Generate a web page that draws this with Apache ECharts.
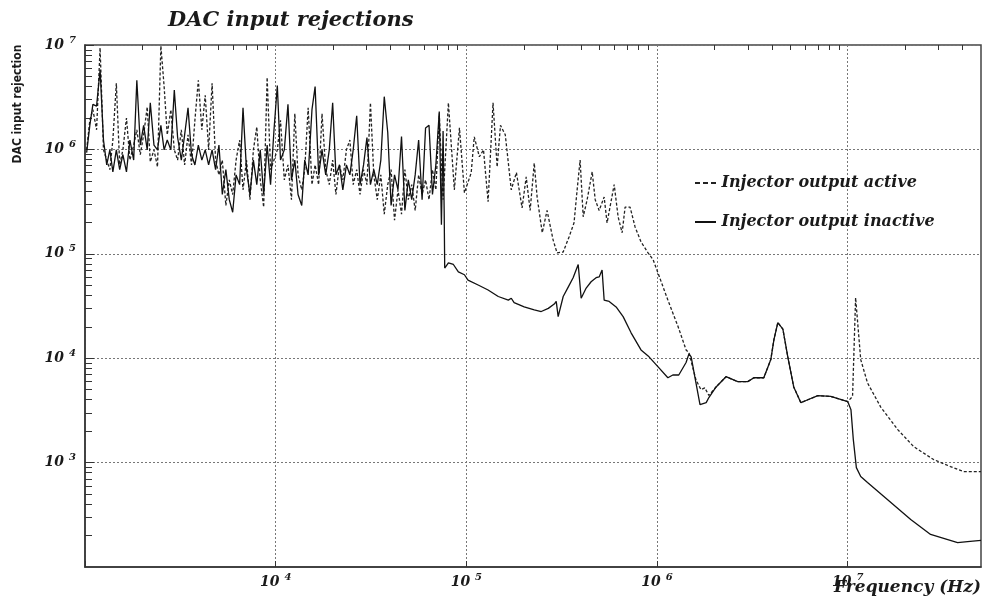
<!DOCTYPE html>
<html>
<head>
<meta charset="utf-8">
<title>DAC input rejections</title>
<script src="https://cdn.jsdelivr.net/npm/echarts@6/dist/echarts.min.js"></script>
<style>
  html, body { margin: 0; padding: 0; background: #fff; }
  #chart { width: 985px; height: 602px; }
</style>
</head>
<body>
<div id="chart"></div>
<script>
// frequencies (Hz) of the noisy low-frequency part, shared by both curves
const noiseFreq = [1020, 1060, 1100, 1150, 1200, 1250, 1300, 1350, 1400, 1460,
  1520, 1580, 1650, 1720, 1800, 1870, 1950, 2030, 2120, 2200,
  2300, 2400, 2500, 2600, 2700, 2820, 2940, 3060, 3200, 3330,
  3470, 3620, 3770, 3930, 4100, 4270, 4450, 4640, 4840, 5040,
  5250, 5480, 5710, 5950, 6200, 6470, 6740, 7030, 7330, 7640,
  7960, 8300, 8650, 9020, 9400, 9800, 10200, 10600, 11100, 11600,
  12100, 12600, 13100, 13700, 14200, 14800, 15500, 16100, 16800, 17500,
  18300, 19100, 19900, 20700, 21600, 22500, 23500, 24500, 25500, 26600,
  27700, 28900, 30100, 31400, 32700, 34100, 35600, 37100, 38700, 40300,
  42000, 43800, 45700, 47600, 49600, 51700, 53900, 56200, 58600, 61100,
  63700, 66400, 69200, 72100, 74000, 75500, 76500];

// injector output inactive (solid)
const solidNoise = [9.3e5, 1.7e6, 2.7e6, 2.6e6, 5.8e6, 1.23e6, 7.1e5, 9.9e5, 6.1e5, 9.9e5,
  6.4e5, 8.9e5, 6.1e5, 1.23e6, 7.9e5, 4.6e6, 1.1e6, 1.7e6, 9.9e5, 2.8e6,
  1.1e6, 9.9e5, 1.7e6, 9.9e5, 1.23e6, 9.9e5, 3.7e6, 1.3e6, 7.9e5, 1.38e6,
  2.5e6, 8.9e5, 7.1e5, 1.1e6, 7.9e5, 9.9e5, 7.1e5, 9.9e5, 6.4e5, 1.1e6,
  3.7e5, 6.4e5, 3.3e5, 2.5e5, 5.7e5, 4.6e5, 2.5e6, 6.4e5, 3.7e5, 7.9e5,
  4.6e5, 9.9e5, 3.7e5, 1.1e6, 4.6e5, 1.54e6, 4.1e6, 7.9e5, 9.9e5, 2.7e6,
  5.1e5, 7.9e5, 3.7e5, 2.9e5, 7.9e5, 5.7e5, 2.4e6, 4.0e6, 5.7e5, 9.9e5,
  5.7e5, 9.9e5, 2.8e6, 5.7e5, 7.1e5, 4.1e5, 7.1e5, 5.7e5, 9.9e5, 2.1e6,
  4.6e5, 7.1e5, 1.3e6, 4.6e5, 6.4e5, 4.6e5, 7.9e5, 3.2e6, 1.45e6, 2.9e5,
  5.7e5, 4.1e5, 1.33e6, 2.6e5, 5.1e5, 3.3e5, 5.7e5, 1.23e6, 3.3e5, 1.6e6,
  1.7e6, 3.7e5, 7.1e5, 2.3e6, 1.9e5, 1.5e6, 2.6e5];

const solidDropFreq = [77000, 80500, 85500, 90800, 97700, 102000, 116000, 130000, 147000, 166000,
  172000, 178000, 201000, 227000, 247000, 269000, 289000, 296000, 303000, 322000,
  342000, 363000, 386000, 400000, 425000, 451000, 479000, 497000, 515000, 528000,
  561000, 610000, 664000, 731000, 824000, 908000, 1010000, 1140000, 1210000, 1300000,
  1420000, 1470000, 1510000, 1600000, 1680000, 1810000, 1870000];
const solidDropVal = [73000, 82000, 79000, 67000, 63000, 56000, 50000, 45000, 39000, 36000,
  37500, 34000, 31000, 29000, 28000, 30000, 33000, 35000, 25000, 39000,
  48000, 59000, 79000, 37500, 47000, 54000, 59000, 60000, 70000, 36000,
  35000, 31000, 25000, 17500, 12000, 10300, 8300, 6500, 6900, 6900,
  9100, 11000, 10300, 5800, 3600, 3750, 4200];

// part where both curves coincide
const sharedFreq = [2040000, 2300000, 2650000, 2990000, 3220000, 3630000, 3950000, 4100000, 4300000,
  4570000, 4850000, 5210000, 5680000, 6180000, 6970000, 8150000, 10000000];
const sharedVal = [5300, 6650, 5960, 5960, 6500, 6500, 9700, 15000, 21900,
  19000, 10300, 5300, 3750, 4000, 4380, 4300, 3840];

const solidEndFreq = [10400000, 10700000, 11100000, 11700000, 12700000, 16200000, 21400000,
  27200000, 37700000, 42500000, 50000000];
const solidEndVal = [3200, 1660, 895, 735, 644, 440, 285, 205, 171, 175, 180];

// injector output active (dashed)
const dashedNoise = [9.9e5, 1.9e6, 2.4e6, 1.54e6, 9.4e6, 9.9e5, 7.9e5, 6.4e5, 1.23e6, 4.3e6,
  7.1e5, 9.9e5, 2.0e6, 7.9e5, 1.1e6, 1.54e6, 8.9e5, 1.38e6, 2.55e6, 7.6e5,
  9.9e5, 6.8e5, 9.8e6, 4.0e6, 1.38e6, 2.4e6, 9.9e5, 7.9e5, 1.54e6, 7.1e5,
  1.38e6, 7.1e5, 1.9e6, 4.6e6, 1.54e6, 3.3e6, 9.9e5, 4.3e6, 7.9e5, 5.7e5,
  7.9e5, 2.9e5, 5.1e5, 3.7e5, 7.9e5, 1.23e6, 4.1e5, 7.9e5, 3.3e5, 9.9e5,
  1.64e6, 5.1e5, 2.8e5, 4.9e6, 6.4e5, 7.9e5, 9.9e5, 1.9e6, 5.1e5, 7.1e5,
  3.3e5, 2.2e6, 5.7e5, 4.1e5, 6.4e5, 2.5e6, 4.6e5, 7.1e5, 4.6e5, 2.2e6,
  6.4e5, 4.6e5, 7.9e5, 3.7e5, 7.1e5, 5.1e5, 9.9e5, 1.23e6, 4.6e5, 6.4e5,
  3.7e5, 6.4e5, 4.6e5, 2.8e6, 5.7e5, 3.3e5, 5.7e5, 2.4e5, 4.6e5, 6.4e5,
  2.1e5, 4.1e5, 2.4e5, 6.4e5, 3.3e5, 4.6e5, 2.6e5, 5.7e5, 3.7e5, 5.1e5,
  3.3e5, 6.4e5, 4.1e5, 2.2e6, 7.1e5, 3.3e5, 5.1e5];

const dashedMidFreq = [80500, 86500, 92000, 97700, 106000, 110000, 117000, 123000, 130000, 138000,
  145000, 151000, 160000, 172000, 183000, 196000, 206000, 216000, 227000, 235000,
  250000, 265000, 285000, 299000, 322000, 346000, 367000, 381000, 395000, 410000,
  430000, 457000, 474000, 497000, 528000, 547000, 596000, 625000, 656000, 680000,
  722000, 767000, 824000, 897000, 953000, 1010000, 1140000, 1290000, 1420000, 1470000,
  1600000, 1700000, 1780000, 1870000];
const dashedMidVal = [2790000, 410000, 1610000, 384000, 596000, 1320000, 850000, 990000, 315000, 2790000,
  680000, 1700000, 1380000, 410000, 600000, 275000, 545000, 260000, 740000, 350000,
  159000, 260000, 136000, 102000, 104000, 146000, 198000, 410000, 790000, 226000,
  330000, 610000, 330000, 260000, 350000, 198000, 460000, 226000, 159000, 280000,
  280000, 181000, 130000, 102000, 88000, 66000, 36000, 20000, 12000, 11300,
  6200, 5000, 5200, 4400];

const dashedEndFreq = [10600000, 11000000, 11700000, 12700000, 14900000, 18300000, 22200000,
  28200000, 34600000, 40500000, 50000000];
const dashedEndVal = [4300, 38000, 9700, 5800, 3400, 2070, 1420, 1070, 916, 820, 820];

// tick positions
const xMajorTicks = [1e3, 1e4, 1e5, 1e6, 1e7];
const xLabelTicks = [1e4, 1e5, 1e6, 1e7];
const xMinorTicks = [2e3, 3e3, 4e3, 5e3, 6e3, 7e3, 8e3, 9e3,
  2e4, 3e4, 4e4, 5e4, 6e4, 7e4, 8e4, 9e4,
  2e5, 3e5, 4e5, 5e5, 6e5, 7e5, 8e5, 9e5,
  2e6, 3e6, 4e6, 5e6, 6e6, 7e6, 8e6, 9e6,
  2e7, 3e7, 4e7];
const yMajorTicks = [1e3, 1e4, 1e5, 1e6, 1e7];
const yMinorTicks = [200, 300, 400, 500, 600, 700, 800, 900,
  2e3, 3e3, 4e3, 5e3, 6e3, 7e3, 8e3, 9e3,
  2e4, 3e4, 4e4, 5e4, 6e4, 7e4, 8e4, 9e4,
  2e5, 3e5, 4e5, 5e5, 6e5, 7e5, 8e5, 9e5,
  2e6, 3e6, 4e6, 5e6, 6e6, 7e6, 8e6, 9e6];

const zip = (fs, vs) => fs.map((f, i) => [f, vs[i]]);

const solidData = zip(noiseFreq, solidNoise)
  .concat(zip(solidDropFreq, solidDropVal), zip(sharedFreq, sharedVal), zip(solidEndFreq, solidEndVal));
const dashedData = zip(noiseFreq, dashedNoise)
  .concat(zip(dashedMidFreq, dashedMidVal), zip(sharedFreq, sharedVal), zip(dashedEndFreq, dashedEndVal));

const serif = "'DejaVu Serif', 'Liberation Serif', serif";
const ink = '#1a1a1a';

const powerLabel = v => '{b|10}{e|' + Math.round(Math.log10(v)) + '}';
const powerRich = {
  b: { fontFamily: serif, fontStyle: 'italic', fontWeight: 'bold', fontSize: 14, color: ink },
  e: { fontFamily: serif, fontStyle: 'italic', fontWeight: 'bold', fontSize: 10, color: ink, padding: [0, 0, 10, 5] }
};

const chart = echarts.init(document.getElementById('chart'));

chart.setOption({
  backgroundColor: '#ffffff',
  animation: false,
  title: {
    text: 'DAC input rejections',
    left: 163,
    top: 5,
    textStyle: { fontFamily: serif, fontStyle: 'italic', fontWeight: 'bold', fontSize: 21, color: ink }
  },
  legend: {
    orient: 'vertical',
    left: 690,
    top: 170,
    itemGap: 23,
    itemWidth: 22,
    itemHeight: 2,
    data: [
      { name: 'Injector output active', icon: 'path://M0,0h5v2h-5z M8,0h5v2h-5z M16,0h5v2h-5z' },
      { name: 'Injector output inactive', icon: 'path://M0,0h21v2h-21z' }
    ],
    textStyle: { fontFamily: serif, fontStyle: 'italic', fontWeight: 'bold', fontSize: 16, color: ink }
  },
  grid: {
    left: 85, right: 4, top: 45, bottom: 35,
    show: true, borderColor: '#444', borderWidth: 1.5, backgroundColor: 'transparent'
  },
  xAxis: [{
    type: 'log', logBase: 10, min: 1e3, max: 5e7,
    axisLine: { lineStyle: { color: '#333', width: 1.5 } },
    axisTick: { inside: true, length: 6, customValues: xMajorTicks, lineStyle: { color: '#333' } },
    axisLabel: { customValues: xLabelTicks, formatter: powerLabel, rich: powerRich, margin: 5 },
    splitLine: { show: true, lineStyle: { color: '#777', width: 1, type: [2, 2] } }
  }, {
    type: 'log', logBase: 10, min: 1e3, max: 5e7,
    axisLine: { show: false },
    axisTick: { inside: true, length: 5, customValues: xMinorTicks, lineStyle: { color: '#333' } },
    axisLabel: { show: false },
    splitLine: { show: false }
  }],
  yAxis: [{
    type: 'log', logBase: 10, min: 100, max: 1e7,
    axisLine: { show: true, lineStyle: { color: '#333', width: 1.5 } },
    axisTick: { show: true, inside: true, length: 9, customValues: yMajorTicks, lineStyle: { color: '#333' } },
    axisLabel: { customValues: yMajorTicks, formatter: powerLabel, rich: powerRich, margin: 9 },
    splitLine: { show: true, lineStyle: { color: '#777', width: 1, type: [2, 2] } }
  }, {
    type: 'log', logBase: 10, min: 100, max: 1e7, position: 'left',
    axisLine: { show: false },
    axisTick: { show: true, inside: true, length: 7, customValues: yMinorTicks, lineStyle: { color: '#333' } },
    axisLabel: { show: false },
    splitLine: { show: false }
  }],
  graphic: [{
    type: 'text',
    x: 18, y: 104,
    rotation: Math.PI / 2,
    style: {
      text: 'DAC input rejection',
      align: 'center', verticalAlign: 'middle',
      font: "bold 12px 'Liberation Sans Narrow', 'DejaVu Sans Condensed', sans-serif",
      fill: ink
    }
  }, {
    type: 'text',
    x: 981, y: 588,
    style: {
      text: 'Frequency (Hz)',
      align: 'right', verticalAlign: 'middle',
      font: "italic bold 17px 'DejaVu Serif', 'Liberation Serif', serif",
      fill: ink
    }
  }],
  series: [{
    name: 'Injector output active',
    type: 'line',
    xAxisIndex: 0, yAxisIndex: 0,
    data: dashedData,
    showSymbol: false,
    symbol: 'none',
    lineStyle: { color: '#222', width: 1.3, type: [3, 2] },
    itemStyle: { color: '#222' }
  }, {
    name: 'Injector output inactive',
    type: 'line',
    xAxisIndex: 0, yAxisIndex: 0,
    data: solidData,
    showSymbol: false,
    symbol: 'none',
    lineStyle: { color: '#111', width: 1.3 },
    itemStyle: { color: '#111' }
  }]
});
</script>
</body>
</html>
